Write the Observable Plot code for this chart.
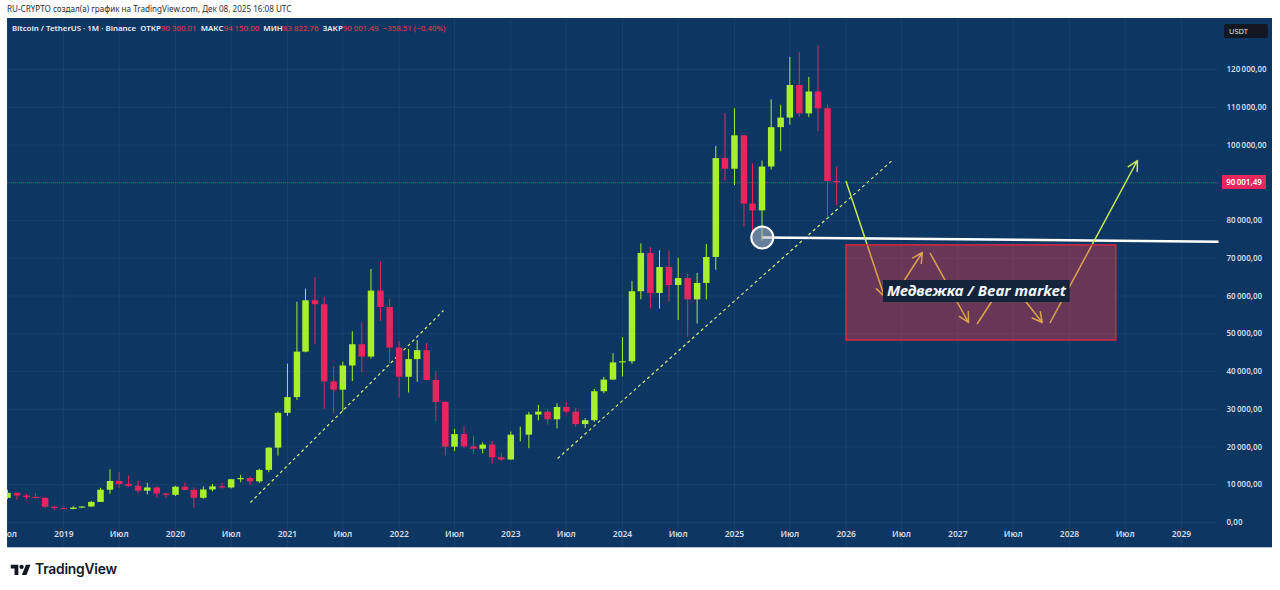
<!DOCTYPE html>
<html><head><meta charset="utf-8">
<script src="https://cdn.jsdelivr.net/npm/d3@7"></script>
<script src="https://cdn.jsdelivr.net/npm/@observablehq/plot@0.6"></script>
<style>
body{margin:0;width:1280px;height:590px;background:#fff;position:relative;overflow:hidden;font-family:"Noto Sans",sans-serif}
#hdr{position:absolute;left:7px;top:3px;font-size:8.1px;color:#2a2e39;white-space:pre}
#panel{position:absolute;left:7px;top:18px;width:1265px;height:529px;background:#0d3662;overflow:hidden;border-bottom:1px solid #b8c4d4}
#legend{position:absolute;left:5px;top:5px;font-size:7.9px;color:#e8eef8;font-weight:600;white-space:pre}
.v{color:#f23645;font-weight:400}
#usdt{position:absolute;left:1217px;top:6px;width:44px;height:14px;background:#131722;color:#e0e3eb;font-size:7.5px;line-height:14px;padding-left:5px;box-sizing:border-box;border-radius:2px}
#price{position:absolute;left:1215px;width:44px;height:14px;background:#e8265e;color:#fff;font-size:8px;font-weight:600;line-height:14px;text-align:center}
#logo{position:absolute;left:10px;top:561px;display:flex;align-items:center;gap:4px;font-family:Inter,sans-serif;font-weight:600;font-size:13.8px;letter-spacing:-0.2px;color:#131722}
</style></head>
<body>
<div id="hdr">RU-CRYPTO создал(а) график на TradingView.com, Дек 08, 2025 16:08 UTC</div>
<div id="panel">
  <div id="legend">Bitcoin / TetherUS · 1M · Binance  ОТКР<span class="v">90 360.01</span>  МАКС<span class="v">94 150.00</span>  МИН<span class="v">83 822.76</span>  ЗАКР<span class="v">90 001.49</span>  <span class="v">−358.51 (−0.40%)</span></div>
  <div id="usdt">USDT</div>
</div>
<div id="logo"><svg width="21" height="13" viewBox="0 0 36 24"><path d="M14 22H7V10H0V3h14v19zM29 22h-8.5l7.5-19h8.5L29 22z" fill="#131722"/><circle cx="20" cy="7" r="4" fill="#131722"/></svg><span>TradingView</span></div>
<script>
// ---- data ----
const firstMonth = "2018-07-01";
const opens = [6391,7730,7011,6627,6370,4041,
 3702,3434,3816,4103,5321,8555,10855,10085,9600,8293,9152,7541,
 7195,9352,8524,6412,8621,9448,9138,11335,11650,10777,13791,19695,
 28924,33093,45135,58740,57697,37253,35045,41462,47100,43820,61300,56951,
 46217,38467,43160,45511,37631,31801,19942,23297,20050,19423,20491,17165,
 16541,23125,23141,28465,29233,27210,30472,29232,25940,26962,34640,37723,
 42283,42580,61131,71280,60672,67540,62772,64628,58974,63328,70216,96407,
 93576,102429,84350,82550,94172,104592,107135,115764,108246,114049,109609,90360.01];
const highs = [8507,7760,7410,7680,6600,4312,
 4070,4199,4120,5600,9074,13970,13200,12325,10905,10370,9505,7750,
 9578,10500,9189,9460,10068,10380,11444,12468,12050,14100,19863,29300,
 41950,58352,61845,64854,59600,41330,42448,50500,52920,66999,69000,59053,
 47990,45821,48190,47444,40023,31986,24668,25211,22799,21085,21480,18388,
 23960,25250,29184,31000,29820,31431,31804,30244,27488,35280,38450,44700,
 48969,63913,73777,72797,71979,71980,70016,65660,66000,73620,99588,108353,
 109588,102500,95000,95758,111980,110530,123218,124474,117900,126200,110644,94150];
const lows = [6070,5880,6100,6200,3652,3156,
 3350,3374,3670,4050,5300,7450,9070,9320,7710,7300,6515,6435,
 6871,8450,3782,6150,8117,8833,8893,10518,9825,10370,13195,17572,
 28130,32296,44950,47045,30000,28805,29278,37332,39600,43283,53256,42000,
 32917,34322,37155,37578,26700,17622,18782,19520,18125,18190,15476,16256,
 16499,21351,19549,26942,25811,24800,28861,25166,24901,26538,34097,37600,
 38555,41884,59005,56552,56555,58402,53485,49000,52550,58946,66835,90500,
 89256,78258,76606,74508,93346,98200,105271,107350,107255,103528,80600,83822.76];
const closes = [7730,7011,6627,6371,4041,3690,
 3434,3816,4103,5321,8555,10855,10085,9600,8293,9152,7541,7195,
 9352,8524,6410,8621,9448,9138,11335,11650,10777,13791,19695,28924,
 33093,45137,58741,57694,37253,35045,41462,47100,43824,61300,56950,46217,
 38466,43160,45510,37630,31801,19942,23293,20050,19423,20491,17164,16542,
 23125,23141,28465,29233,27210,30472,29232,25940,26962,34639,37723,42283,
 42580,61130,71280,60672,67540,62772,64628,58974,63328,70215,96407,93576,
 102429,84350,82548,94172,104591,107135,115764,108246,114048,109608,90360.01,90001.49];

const yTicks = [0,10000,20000,30000,40000,50000,60000,70000,80000,90000,100000,110000,120000];
const xTickDates = ["2018-07-01","2019-01-01","2019-07-01","2020-01-01","2020-07-01","2021-01-01","2021-07-01","2022-01-01","2022-07-01","2023-01-01","2023-07-01","2024-01-01","2024-07-01","2025-01-01","2025-07-01","2026-01-01","2026-07-01","2027-01-01","2027-07-01","2028-01-01","2028-07-01","2029-01-01"];
const xTickLabels = ["Июл","2019","Июл","2020","Июл","2021","Июл","2022","Июл","2023","Июл","2024","Июл","2025","Июл","2026","Июл","2027","Июл","2028","Июл","2029"];

// annotations (date, price)
const trendLines = [
  {x1:"2020-09-02", y1:5300, x2:"2022-05-26", y2:56160},
  {x1:"2023-06-03", y1:16950, x2:"2026-06-04", y2:96160}
];
const supportLine = [{x1:"2025-04-02", y1:75500, x2:"2029-05-02", y2:74400}];
const circlePoint = [{x:"2025-04-02", y:75500}];
const bearBox = [{x1:"2026-01-02", x2:"2028-06-02", y1:48200, y2:73400}];
const arrowPaths = [
  {x1:"2026-01-01", y1:90300, x2:"2026-05-06", y2:59870},
  {x1:"2026-06-27", y1:62520, x2:"2026-09-07", y2:71520},
  {x1:"2026-10-03", y1:71260, x2:"2027-02-05", y2:52980},
  {x1:"2027-03-06", y1:52720, x2:"2027-05-30", y2:63310},
  {x1:"2027-06-28", y1:63050, x2:"2027-10-04", y2:52980},
  {x1:"2027-10-30", y1:52980, x2:"2028-08-10", y2:95890}
];
const labelBox = [{x1:"2026-05-03", x2:"2028-01-03", y1:58280, y2:64100}];
const labelText = [{x:"2027-03-03", y:61190, text:"Медвежка / Bear market"}];

// ---- build ----
const D = s => new Date(s + "T00:00:00Z");
const months = d3.utcMonth.range(D(firstMonth), d3.utcMonth.offset(D(firstMonth), opens.length));
const candles = months.map((d,i) => ({date:d, o:opens[i], h:highs[i], l:lows[i], c:closes[i]}));
const xTicks = xTickDates.map((d,i) => ({date:D(d), label:xTickLabels[i]}));
const seg = arr => arr.map(p => ({...p, x1:D(p.x1), x2:D(p.x2)}));
const pts = arr => arr.map(p => ({...p, x:D(p.x)}));
const up = "#a7f02b", down = "#e8265e";
const col = d => d.c >= d.o ? up : down;
const loc = d3.formatLocale({decimal:",", thousands:"\u2009", grouping:[3]});
const fmt = loc.format(",.2f");
const lastClose = closes[closes.length-1];

const chart = Plot.plot({
  width:1265, height:529,
  marginLeft:0, marginRight:54, marginTop:0, marginBottom:0,
  style:{fontFamily:"'Noto Sans', sans-serif", background:"transparent", fontWeight:600},
  x:{type:"utc", domain:[D("2018-07-01"), D("2029-05-02")], axis:null},
  y:{domain:[-6623, 133510], axis:null},
  marks:[
    Plot.ruleY(yTicks, {stroke:"#ffffff", strokeOpacity:0.05}),
    Plot.ruleX(xTicks, {x:"date", stroke:"#ffffff", strokeOpacity:0.05}),
    Plot.ruleY([lastClose], {stroke:down, strokeOpacity:0.75, strokeDasharray:"1,1"}),
    Plot.link(seg(trendLines), {x1:"x1", y1:"y1", x2:"x2", y2:"y2", stroke:"#d8ef78", strokeWidth:1.2, strokeDasharray:"3,3"}),
    Plot.ruleX(candles, {x:"date", y1:"l", y2:"h", stroke:col, strokeWidth:1}),
    Plot.ruleX(candles, {x:"date", y1:"o", y2:"c", stroke:col, strokeWidth:6.5}),
    Plot.link(seg(supportLine), {x1:"x1", y1:"y1", x2:"x2", y2:"y2", stroke:"#ffffff", strokeWidth:2.5}),
    Plot.dot(pts(circlePoint), {x:"x", y:"y", r:11, fill:"#b4bccb", fillOpacity:0.55, stroke:"#ffffff", strokeWidth:2}),
    Plot.arrow(seg(arrowPaths), {x1:"x1", y1:"y1", x2:"x2", y2:"y2", stroke:"#c8ee4c", strokeWidth:1.5, headLength:11, headAngle:55}),
    Plot.rect(seg(bearBox), {x1:"x1", x2:"x2", y1:"y1", y2:"y2", fill:"#f23645", fillOpacity:0.4, stroke:"#d42a3e", strokeWidth:1.5}),
    Plot.rect(seg(labelBox), {x1:"x1", x2:"x2", y1:"y1", y2:"y2", fill:"#13233a"}),
    Plot.text(pts(labelText), {x:"x", y:"y", text:"text", fill:"#f2f6ff", fontSize:15, fontStyle:"italic", fontWeight:"bold"}),
    Plot.axisY(yTicks, {anchor:"right", tickSize:0, tickPadding:8, textAnchor:"start", tickFormat:fmt, fill:"#d3dbe8", fontSize:8}),
    Plot.text(xTicks, {x:"date", text:"label", frameAnchor:"bottom", dy:-11, fill:"#d3dbe8", fontSize:8.5})
  ]
});
const panel = document.getElementById("panel");
panel.insertBefore(chart, panel.firstChild);
chart.style.position = "absolute"; chart.style.left = "0"; chart.style.top = "0";
const pl = document.createElement("div");
pl.id = "price"; pl.textContent = fmt(lastClose);
pl.style.top = (chart.scale("y").apply(lastClose) - 7) + "px";
panel.appendChild(pl);
</script>
</body></html>
